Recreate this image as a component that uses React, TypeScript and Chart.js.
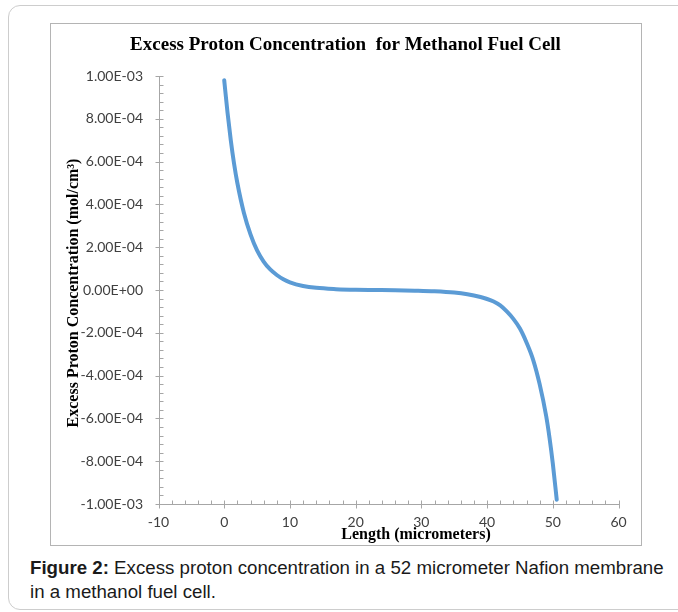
import React, { useEffect, useRef } from "react";
import { Chart, registerables } from "chart.js";

Chart.register(...registerables);

// Data
const lengthUm = [0, 0.5, 1, 1.5, 2, 3, 4, 5, 6, 7, 8, 9, 10, 12, 14, 17, 20, 23, 26, 29, 32, 35, 37, 39, 40, 41, 42, 43, 44, 45, 46, 47, 48, 49, 49.5, 50, 50.6];
const concentration = [
  9.8e-4, 8.3e-4, 7.0e-4, 5.9e-4, 5.0e-4, 3.6e-4, 2.6e-4, 1.85e-4, 1.33e-4, 9.6e-5, 7.0e-5, 5.0e-5,
  3.6e-5, 1.9e-5, 1.0e-5, 4e-6, 1e-6, 0, -1e-6, -3e-6, -6e-6, -1.2e-5,
  -2.0e-5, -3.3e-5, -4.2e-5, -5.4e-5, -7.2e-5, -1.0e-4, -1.35e-4, -1.8e-4, -2.45e-4, -3.25e-4, -4.4e-4,
  -5.9e-4, -6.9e-4, -8.1e-4, -9.8e-4,
];
const xTicks = [-10, 0, 10, 20, 30, 40, 50, 60];
const yTicks = [-1e-3, -8e-4, -6e-4, -4e-4, -2e-4, 0, 2e-4, 4e-4, 6e-4, 8e-4, 1e-3];

const chartTitle = "Excess Proton Concentration  for Methanol Fuel Cell";
const xTitle = "Length (micrometers)";
const yTitle = "Excess Proton Concentration (mol/cm\u00B3)";

function fmtExp(v: number): string {
  if (Math.abs(v) < 1e-12) v = 0;
  const s = v.toExponential(2);
  const [m, e] = s.split("e");
  const sign = e[0] === "-" ? "-" : "+";
  const digits = e.replace(/[+-]/, "").padStart(2, "0");
  return `${m}E${sign}${digits}`;
}

const AXIS_COLOR = "#a6a6a6";
const SERIF = "'Liberation Serif', 'Times New Roman', serif";

const axesPlugin = {
  id: "excelAxes",
  beforeDatasetsDraw(chart: any) {
    const { ctx, scales } = chart;
    const xs = scales.x;
    const ys = scales.y;
    const ax = Math.round(xs.getPixelForValue(-10)) + 0.5;
    const ay = Math.round(ys.getPixelForValue(-1e-3)) + 0.5;
    const top = Math.round(ys.getPixelForValue(1e-3)) + 0.5;
    const right = Math.round(xs.getPixelForValue(60)) + 0.5;
    ctx.save();
    ctx.strokeStyle = AXIS_COLOR;
    ctx.lineWidth = 1;
    ctx.beginPath();
    ctx.moveTo(ax, top);
    ctx.lineTo(ax, ay);
    ctx.moveTo(ax, ay);
    ctx.lineTo(right, ay);
    for (const v of yTicks) {
      const p = Math.round(ys.getPixelForValue(v)) + 0.5;
      ctx.moveTo(ax - 4, p);
      ctx.lineTo(ax + 4, p);
    }
    for (let i = 0; i < yTicks.length - 1; i++) {
      const a = yTicks[i];
      const b = yTicks[i + 1];
      for (let k = 1; k < 5; k++) {
        const p = Math.round(ys.getPixelForValue(a + ((b - a) * k) / 5)) + 0.5;
        ctx.moveTo(ax, p);
        ctx.lineTo(ax + 4, p);
      }
    }
    for (const v of xTicks) {
      const p = Math.round(xs.getPixelForValue(v)) + 0.5;
      ctx.moveTo(p, ay - 4);
      ctx.lineTo(p, ay + 4);
    }
    for (let i = 0; i < xTicks.length - 1; i++) {
      const a = xTicks[i];
      const b = xTicks[i + 1];
      for (let k = 1; k < 5; k++) {
        const p = Math.round(xs.getPixelForValue(a + ((b - a) * k) / 5)) + 0.5;
        ctx.moveTo(p, ay - 4);
        ctx.lineTo(p, ay);
      }
    }
    ctx.stroke();
    ctx.restore();
  },
  afterDraw(chart: any) {
    const { ctx } = chart;
    ctx.save();
    ctx.fillStyle = "#000000";
    ctx.textAlign = "center";
    ctx.textBaseline = "middle";
    ctx.font = `bold 19px ${SERIF}`;
    ctx.fillText(chartTitle, 294.5, 21);
    ctx.font = `bold 16px ${SERIF}`;
    ctx.fillText(xTitle, 365, 511);
    ctx.translate(23, 269);
    ctx.rotate(-Math.PI / 2);
    ctx.fillText(yTitle, 0, 0);
    ctx.restore();
  },
};

function ChartView() {
  const ref = useRef<HTMLCanvasElement | null>(null);
  useEffect(() => {
    if (!ref.current) return;
    const chart = new Chart(ref.current, {
      type: "scatter",
      data: {
        datasets: [
          {
            data: lengthUm.map((x, i) => ({ x, y: concentration[i] })),
            showLine: true,
            borderColor: "#5b9bd5",
            backgroundColor: "#5b9bd5",
            borderWidth: 4,
            borderCapStyle: "round",
            borderJoinStyle: "round",
            pointRadius: 0,
            cubicInterpolationMode: "monotone",
          } as any,
        ],
      },
      options: {
        responsive: false,
        animation: false,
        devicePixelRatio: 1,
        layout: { padding: { left: 0, right: 22.5, top: 52, bottom: 0 } },
        plugins: {
          legend: { display: false },
          tooltip: { enabled: false },
          title: { display: false },
        },
        scales: {
          x: {
            type: "linear",
            min: -10,
            max: 60,
            border: { display: false },
            grid: { display: false, drawTicks: false, tickLength: 0 },
            afterBuildTicks: (s: any) => {
              s.ticks = xTicks.map((v) => ({ value: v }));
            },
            afterFit: (s: any) => {
              s.height = 41;
            },
            ticks: {
              padding: 9.6,
              color: "#404040",
              font: { family: "Lato, 'Liberation Sans', sans-serif", size: 14 },
              callback: (v: any) => String(v),
              maxRotation: 0,
              autoSkip: false,
            },
          },
          y: {
            type: "linear",
            min: -1e-3,
            max: 1e-3,
            border: { display: false },
            grid: { display: false, drawTicks: false, tickLength: 0 },
            afterBuildTicks: (s: any) => {
              s.ticks = yTicks.map((v) => ({ value: v }));
            },
            afterFit: (s: any) => {
              s.width = 107.5;
            },
            ticks: {
              padding: 15.5,
              color: "#404040",
              font: { family: "Lato, 'Liberation Sans', sans-serif", size: 14 },
              callback: (v: any) => fmtExp(Number(v)),
              autoSkip: false,
            },
          },
        },
      } as any,
      plugins: [axesPlugin],
    });
    return () => chart.destroy();
  }, []);
  return <canvas ref={ref} width={590} height={521} style={{ display: "block", width: 590, height: 521 }} />;
}

export default function App() {
  return (
    <div
      style={{
        position: "absolute",
        left: 0,
        top: 0,
        width: 678,
        height: 612,
        overflow: "hidden",
        background: "#ffffff",
      }}
    >
      <div
        style={{
          position: "absolute",
          left: 8,
          top: 5,
          width: 720,
          height: 605,
          border: "1.5px solid #cdcdcd",
          borderRadius: 12,
          boxSizing: "border-box",
        }}
      />
      <div
        style={{
          position: "absolute",
          left: 50,
          top: 23,
          width: 592,
          height: 523,
          border: "1px solid #b4b4b4",
          boxSizing: "border-box",
        }}
      >
        <ChartView />
      </div>
      <div
        style={{
          position: "absolute",
          left: 30,
          top: 556,
          width: 645,
          fontFamily: "'Liberation Sans', Arial, sans-serif",
          fontSize: 18.7,
          lineHeight: "24px",
          color: "#1a1a1a",
          whiteSpace: "nowrap",
        }}
      >
        <b>Figure 2:</b> Excess proton concentration in a 52 micrometer Nafion membrane
        <br />
        in a methanol fuel cell.
      </div>
    </div>
  );
}
